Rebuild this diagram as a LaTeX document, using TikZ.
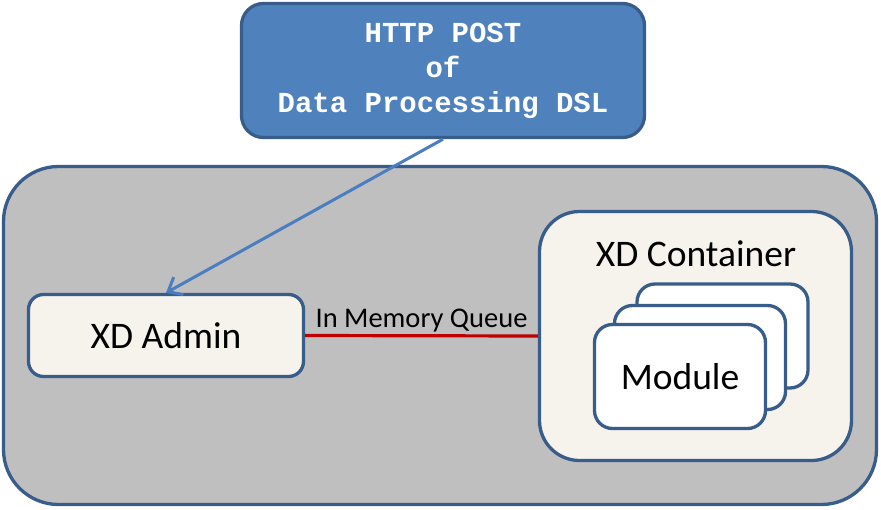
\documentclass[tikz,border=0pt]{standalone}
\usepackage{fontspec}
\setmainfont{Carlito}
\newfontfamily\codefont{Liberation Mono}
\usepackage{tikz}
\usetikzlibrary{arrows.meta,positioning}
\definecolor{xdborder}{RGB}{56,93,138}
\definecolor{xdblue}{RGB}{79,129,189}
\definecolor{xdarrow}{RGB}{74,126,193}
\definecolor{xdgray}{RGB}{191,191,191}
\definecolor{xdcream}{RGB}{245,243,236}
\definecolor{xdred}{RGB}{192,0,0}

\begin{document}
\begin{tikzpicture}[x=1pt,y=-1pt,
  box/.style={draw=xdborder,line width=3.3pt},
  modbox/.style={box,fill=white,rounded corners=18pt,minimum width=171pt,minimum height=104pt}]
\useasboundingbox (0,0) rectangle (881,509);
% Outer frame
\node[box,fill=xdgray,rounded corners=55pt,minimum width=873pt,minimum height=338pt] (frame) at (440,335.5) {};
% Request on top
\node[box,fill=xdblue,rounded corners=22pt,minimum width=403pt,minimum height=134pt,
  align=center,text=white,font=\codefont\bfseries\fontsize{29}{35}\selectfont] (post) at (443,70.5)
  {HTTP POST\\of\\Data Processing DSL};
% Admin and container
\node[box,fill=xdcream,rounded corners=15pt,minimum width=275pt,minimum height=82pt,
  font=\fontsize{37.5}{44}\selectfont] (admin) at (166,335.5) {XD Admin};
\node[box,fill=xdcream,rounded corners=40pt,minimum width=312pt,minimum height=249pt] (container) at (695.5,336) {};
\node[font=\fontsize{37.5}{44}\selectfont] (ctitle) at (696,254) {XD Container};
% Stack of modules
\node[modbox] (mod3) at (722.5,336) {};
\node[modbox] (mod2) at (700,357.5) {};
\node[modbox,font=\fontsize{37.5}{44}\selectfont] (mod1) at (680,376.5) {Module};
% Connectors
\draw[xdarrow,line width=3pt,-{Straight Barb[length=12pt,width=20pt]}] (post.south) -- (admin.north);
\draw[xdred,line width=3.2pt] (admin.east) -- node[midway,above,text=black,font=\fontsize{28.5}{32}\selectfont,inner sep=2pt] (queue) {In Memory Queue} (container.west);
\end{tikzpicture}
\end{document}
